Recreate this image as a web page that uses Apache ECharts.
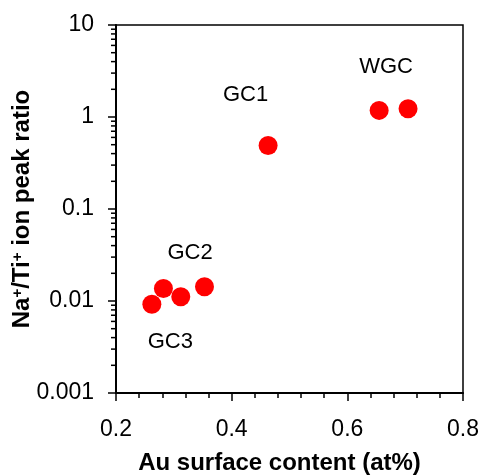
<!DOCTYPE html>
<html>
<head>
<meta charset="utf-8">
<script src="https://cdn.jsdelivr.net/npm/echarts@6/dist/echarts.min.js"></script>
<style>
  html, body { margin: 0; padding: 0; background: #fff; }
  #main { width: 481px; height: 475px; }
</style>
</head>
<body>
<div id="main"></div>
<script>
  // Au content vs Na+/Ti+ ratio
  var auContent = [0.262, 0.282, 0.312, 0.353, 0.463, 0.655, 0.705]
  var naTiRatio = [0.0092, 0.0137, 0.0111, 0.0143, 0.49, 1.18, 1.23]

  // sample group labels and where they sit
  var groupNames = ['GC1', 'WGC', 'GC2', 'GC3']
  var groupX = [0.424, 0.667, 0.328, 0.294]
  var groupY = [1.73, 3.52, 0.033, 0.0036]

  // log axis minor ticks (2..9 in each decade)
  var decades = [0.001, 0.01, 0.1, 1]
  var minorSteps = [2, 3, 4, 5, 6, 7, 8, 9]

  var font = 'Liberation Sans, Arial, sans-serif'

  var points = []
  for (var i = 0; i < auContent.length; i++) {
    points.push([auContent[i], naTiRatio[i]])
  }
  var labels = []
  for (var j = 0; j < groupNames.length; j++) {
    labels.push({ value: [groupX[j], groupY[j]], name: groupNames[j] })
  }
  var minorTicks = []
  decades.forEach(function (d) {
    minorSteps.forEach(function (m) {
      minorTicks.push([0.2, d * m])
    })
  })

  var myChart = echarts.init(document.getElementById('main'))
  myChart.setOption({
    backgroundColor: '#fff',
    animation: false,
    grid: {
      left: 116,
      right: 18,
      top: 25,
      bottom: 82,
      outerBoundsMode: 'none',
      containLabel: false,
      show: true,
      borderColor: '#000',
      borderWidth: 1.5
    },
    xAxis: {
      type: 'value',
      min: 0.2,
      max: 0.8,
      interval: 0.2,
      name: 'Au surface content (at%)',
      nameLocation: 'middle',
      nameGap: 58,
      nameMoveOverlap: false,
      nameTextStyle: { fontFamily: font, fontSize: 24, fontWeight: 'bold', color: '#000', padding: [0, 20, 0, 0] },
      axisLine: { onZero: false, lineStyle: { color: '#000', width: 2 } },
      axisTick: { length: 8, lineStyle: { color: '#000', width: 1.5 } },
      minorTick: { show: true, splitNumber: 5, length: 5, lineStyle: { color: '#000', width: 1.5 } },
      axisLabel: {
        margin: 25,
        fontFamily: font,
        fontSize: 23,
        color: '#000',
        formatter: function (v) { return v.toFixed(1) }
      },
      splitLine: { show: false }
    },
    yAxis: {
      type: 'log',
      min: 0.001,
      max: 10,
      logBase: 10,
      name: 'Na{sup|+}/Ti{sup|+} ion peak ratio',
      nameLocation: 'middle',
      nameRotate: 90,
      nameGap: 82,
      nameMoveOverlap: false,
      nameTextStyle: {
        fontFamily: font,
        fontSize: 24,
        fontWeight: 'bold',
        color: '#000',
        rich: {
          sup: { fontFamily: font, fontSize: 15, fontWeight: 'bold', color: '#000', verticalAlign: 'top', padding: [0, 0, 9, 0] }
        }
      },
      axisLine: { lineStyle: { color: '#000', width: 2 } },
      axisTick: { length: 8, lineStyle: { color: '#000', width: 1.5 } },
      axisLabel: {
        margin: 22,
        fontFamily: font,
        fontSize: 23,
        color: '#000',
        formatter: function (v) {
          return v >= 1 ? String(Math.round(v)) : String(parseFloat(v.toPrecision(1)))
        }
      },
      splitLine: { show: false }
    },
    series: [
      {
        type: 'custom',
        silent: true,
        clip: false,
        data: minorTicks,
        renderItem: function (params, api) {
          var p = api.coord([api.value(0), api.value(1)])
          return {
            type: 'line',
            shape: { x1: p[0] - 5, y1: p[1], x2: p[0], y2: p[1] },
            style: { stroke: '#000', lineWidth: 1.5 }
          }
        },
        z: 5
      },
      {
        type: 'scatter',
        data: points,
        symbol: 'circle',
        symbolSize: 19,
        itemStyle: { color: '#ff0000', opacity: 1 }
      },
      {
        type: 'scatter',
        data: labels,
        symbolSize: 0,
        silent: true,
        itemStyle: { color: '#000', opacity: 1 },
        label: {
          show: true,
          position: 'inside',
          formatter: '{b}',
          fontFamily: font,
          fontSize: 22,
          color: '#000',
          opacity: 1,
          textBorderWidth: 0,
          textBorderColor: 'transparent'
        }
      }
    ]
  })
</script>
</body>
</html>
